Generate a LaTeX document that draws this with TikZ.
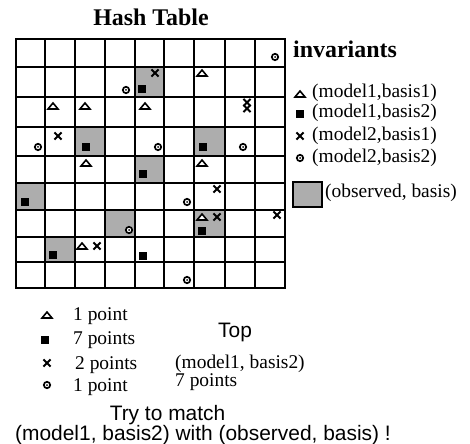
\documentclass[tikz,border=0pt]{standalone}
\usepackage{fontspec}
\setmainfont{Liberation Serif}
\setsansfont{Liberation Sans}
\begin{document}
\begin{tikzpicture}[x=1bp,y=-1bp,
  gridline/.style={line width=1.8bp, line cap=rect},
  obsfill/.style={fill=black!32},
  serif/.style={font=\fontsize{19.5}{22}\selectfont, inner sep=0pt, anchor=west},
  sanstxt/.style={font=\sffamily\fontsize{21}{24}\selectfont, inner sep=0pt},
  boldtxt/.style={font=\bfseries\fontsize{24}{28}\selectfont, inner sep=0pt},
  mtri/.pic={\draw[line width=1.6bp, fill=white, line join=miter] (-5,3) -- (5,3) -- (0,-3) -- cycle;},
  msq/.pic={\fill[black] (-3.8,-3.8) rectangle (3.8,3.8);},
  mx/.pic={\draw[line width=1.9bp] (-3.6,-3.6) -- (3.6,3.6) (-3.6,3.6) -- (3.6,-3.6);},
  mcirc/.pic={\draw[line width=1.7bp, fill=white] (0,0) circle (3.2); \fill[black] (0,0) circle (1);}
]
\useasboundingbox (0,0) rectangle (470,444);

% observed cells
\fill[obsfill] (135,67) rectangle (164,97);
\fill[obsfill] (75,127) rectangle (105,156);
\fill[obsfill] (194,127) rectangle (225,156);
\fill[obsfill] (135,156) rectangle (164,183);
\fill[obsfill] (16,183) rectangle (45,210);
\fill[obsfill] (105,210) rectangle (135,237);
\fill[obsfill] (194,210) rectangle (225,237);
\fill[obsfill] (45,237) rectangle (75,262);

% grid
\foreach \x in {16,45,75,105,135,164,194,225,255,285}
  \draw[gridline] (\x,39) -- (\x,288);
\foreach \y in {39,67,97,127,156,183,210,237,262,288}
  \draw[gridline] (16,\y) -- (285,\y);

% row 1
\pic at (275,57) {mcirc};
% row 2
\pic at (126,90) {mcirc};
\pic at (142,89) {msq};
\pic at (155,73) {mx};
\pic at (202,73) {mtri};
% row 3
\pic at (53,106) {mtri};
\pic at (85,106) {mtri};
\pic at (145,106) {mtri};
\pic at (247,102.5) {mx};
\pic at (247,108.5) {mx};
% row 4
\pic at (38,147) {mcirc};
\pic at (58,136) {mx};
\pic at (86,147) {msq};
\pic at (158,147) {mcirc};
\pic at (203,147) {msq};
\pic at (243,147) {mcirc};
% row 5
\pic at (86,163) {mtri};
\pic at (143,174) {msq};
\pic at (202,163) {mtri};
% row 6
\pic at (25,202) {msq};
\pic at (187,202) {mcirc};
\pic at (217,189) {mx};
% row 7
\pic at (129,230) {mcirc};
\pic at (202,217) {mtri};
\pic at (217,217) {mx};
\pic at (202,231) {msq};
\pic at (277,215) {mx};
% row 8
\pic at (53,255) {msq};
\pic at (82,246) {mtri};
\pic at (97,246) {mx};
\pic at (143,256) {msq};
% row 9
\pic at (187,280) {mcirc};

% title
\node[boldtxt] (title) at (151,17) {Hash Table};

% legend
\node[boldtxt, anchor=base west] (inv) at (293,58) {invariants};
\pic at (300,94) {mtri};
\node[serif] (l1) at (312,93.3) {(model1,basis1)};
\pic at (300,114) {msq};
\node[serif] (l2) at (312,113.3) {(model1,basis2)};
\pic at (300,136) {mx};
\node[serif] (l3) at (312,136) {(model2,basis1)};
\pic at (300,158) {mcirc};
\node[serif] (l4) at (312,158.3) {(model2,basis2)};
\node[draw, line width=1.4bp, obsfill, minimum width=29bp, minimum height=25bp, inner sep=0pt] (obsbox) at (307.5,194.5) {};
\node[serif] (l5) at (325,193.3) {(observed, basis)};

% counts
\pic at (47,315) {mtri};
\node[serif] (c1) at (73,316) {1 point};
\pic at (45,340) {msq};
\node[serif] (c2) at (73,340) {7 points};
\pic at (47,363) {mx};
\node[serif] (c3) at (75,365) {2 points};
\pic at (47,385) {mcirc};
\node[serif] (c4) at (73,387.5) {1 point};

\node[sanstxt] (top) at (235,332) {Top};
\node[serif] (tm) at (175,364) {(model1, basis2)};
\node[serif] (tp) at (175,382.5) {7 points};

\node[sanstxt] (try) at (167.5,415) {Try to match};
\node[sanstxt, anchor=west] (match) at (15,435) {(model1, basis2) with (observed, basis) !};
\end{tikzpicture}
\end{document}
